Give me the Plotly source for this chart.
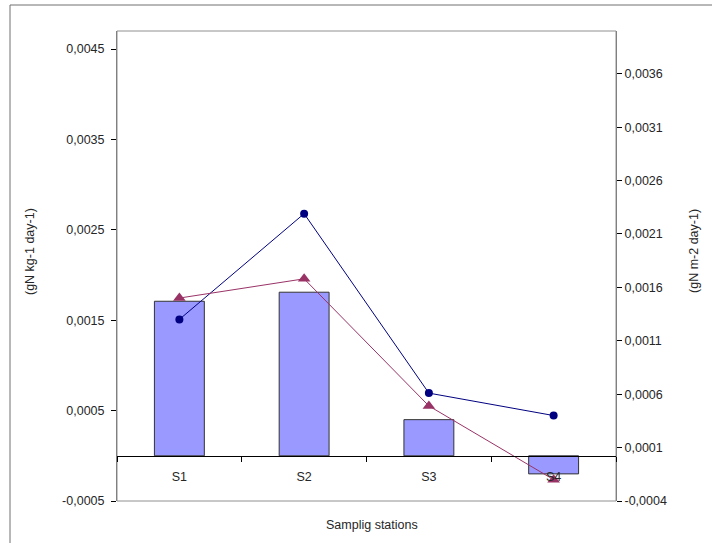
import plotly.graph_objects as go

stations = ["S1", "S2", "S3", "S4"]
bar_values = [0.00171, 0.00181, 0.00040, -0.00020]          # left axis (gN kg-1 day-1)
circle_values = [0.00130, 0.00229, 0.00061, 0.00040]        # right axis (gN m-2 day-1)
triangle_values = [0.00150, 0.00168, 0.00049, -0.00020]     # right axis

left_ticks = [-0.0005, 0.0005, 0.0015, 0.0025, 0.0035, 0.0045]
left_ticktext = ["-0,0005", "0,0005", "0,0015", "0,0025", "0,0035", "0,0045"]
right_ticks = [-0.0004, 0.0001, 0.0006, 0.0011, 0.0016, 0.0021, 0.0026, 0.0031, 0.0036]
right_ticktext = ["-0,0004", "0,0001", "0,0006", "0,0011", "0,0016", "0,0021", "0,0026", "0,0031", "0,0036"]

left_range = [-0.0005, 0.0047]
right_range = [-0.0004, 0.0040]

font = dict(family="Liberation Sans, Arial, sans-serif", size=12.5, color="#262626")

fig = go.Figure()
fig.add_trace(go.Bar(
    x=stations, y=bar_values, width=0.4,
    marker=dict(color="#9999FF", line=dict(color="#333333", width=1)),
    yaxis="y", showlegend=False,
))
fig.add_trace(go.Scatter(
    x=stations, y=circle_values, mode="lines+markers",
    line=dict(color="#000080", width=1),
    marker=dict(symbol="circle", size=8, color="#000080"),
    yaxis="y2", showlegend=False,
))
fig.add_trace(go.Scatter(
    x=stations, y=triangle_values, mode="lines+markers",
    line=dict(color="#993366", width=1),
    marker=dict(symbol="triangle-up", size=11, color="#993366"),
    yaxis="y2", showlegend=False,
))

zero_pos = (0 - left_range[0]) / (left_range[1] - left_range[0])

fig.update_layout(
    width=712, height=543,
    margin=dict(l=117, r=96, t=31, b=42),
    paper_bgcolor="white", plot_bgcolor="white",
    font=font,
    showlegend=False,
    xaxis=dict(
        type="category", anchor="free", position=zero_pos,
        showline=True, linecolor="black", linewidth=1,
        ticks="outside", ticklen=5, tickcolor="black", tickson="boundaries",
        showgrid=False, zeroline=False, domain=[0, 1], ticklabelstandoff=9,
    ),
    yaxis=dict(
        range=left_range, tickvals=left_ticks, ticktext=left_ticktext,
        showline=True, linecolor="#808080", linewidth=1,
        ticks="outside", ticklen=5, tickcolor="black",
        showgrid=False, zeroline=False, ticklabelstandoff=4,
    ),
    yaxis2=dict(
        range=right_range, tickvals=right_ticks, ticktext=right_ticktext,
        overlaying="y", side="right",
        showline=True, linecolor="#808080", linewidth=1,
        ticks="outside", ticklen=5, tickcolor="black",
        showgrid=False, zeroline=False,
    ),
    shapes=[
        dict(type="rect", xref="paper", yref="paper", x0=0, x1=1, y0=0, y1=1,
             line=dict(color="#909090", width=1), layer="below"),
        dict(type="rect", xref="paper", yref="paper", x0=-0.2144, x1=1.5, y0=-0.5, y1=1.0553,
             line=dict(color="#707070", width=1), layer="below"),
    ],
    annotations=[
        dict(text="Samplig stations", xref="paper", yref="paper", x=0.511, y=-0.051,
             xanchor="center", yanchor="middle", showarrow=False, font=font),
        dict(text="(gN kg-1 day-1)", xref="paper", yref="paper", x=-0.1743, y=0.5298,
             xanchor="center", yanchor="middle", textangle=-90, showarrow=False, font=font),
        dict(text="(gN m-2 day-1)", xref="paper", yref="paper", x=1.1563, y=0.532,
             xanchor="center", yanchor="middle", textangle=-90, showarrow=False, font=font),
    ],
)

fig.write_html("out.html", config={"displayModeBar": False},
               post_script="document.body.style.margin='0';")
